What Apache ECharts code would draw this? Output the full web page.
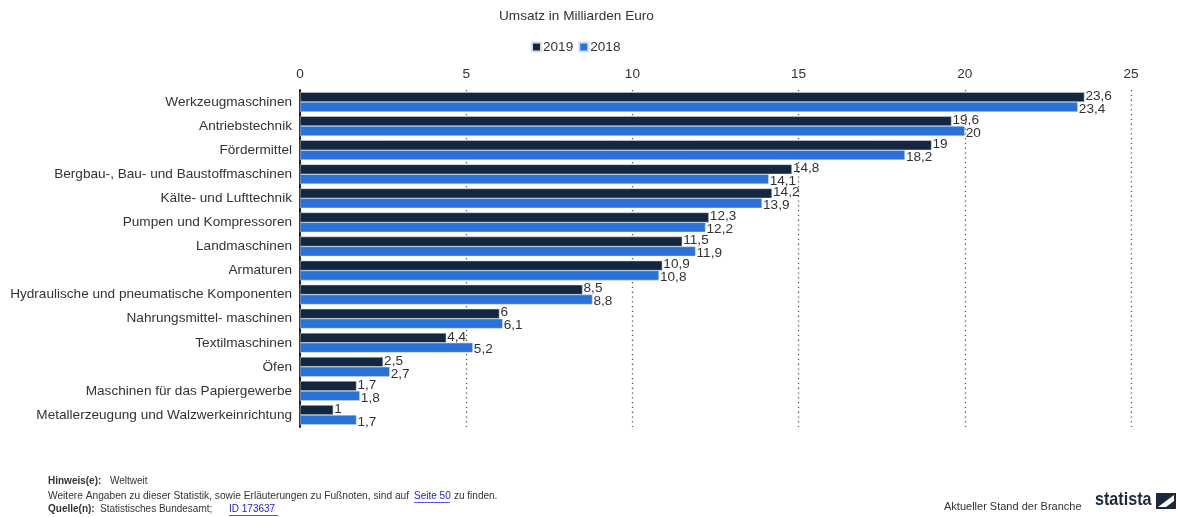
<!DOCTYPE html>
<html><head><meta charset="utf-8">
<script src="https://cdn.jsdelivr.net/npm/echarts@6/dist/echarts.min.js"></script>
<style>html,body{margin:0;padding:0;background:#fff}#c{width:1178px;height:517px}</style>
</head><body><div id="c"></div>
<script>
const categories = ["Werkzeugmaschinen","Antriebstechnik","Fördermittel","Bergbau-, Bau- und Baustoffmaschinen","Kälte- und Lufttechnik","Pumpen und Kompressoren","Landmaschinen","Armaturen","Hydraulische und pneumatische Komponenten","Nahrungsmittel- maschinen","Textilmaschinen","Öfen","Maschinen für das Papiergewerbe","Metallerzeugung und Walzwerkeinrichtung"];
const values2019 = [23.6,19.6,19,14.8,14.2,12.3,11.5,10.9,8.5,6,4.4,2.5,1.7,1];
const values2018 = [23.4,20,18.2,14.1,13.9,12.2,11.9,10.8,8.8,6.1,5.2,2.7,1.8,1.7];
const xTicks = [0,5,10,15,20,25];

const FF = 'Arial, Liberation Sans, sans-serif';
const FS = 13.6;
const chart = echarts.init(document.getElementById('c'));
const fmt = p => String(p.value).replace('.', ',');
const lbl = {show:true, position:'right', distance:1, color:'#333', fontSize:FS, fontFamily:FF, formatter: fmt};
chart.setOption({
  animation:false,
  textStyle:{fontFamily:FF},
  title:{text:'Umsatz in Milliarden Euro', left:499, top:9, padding:0, textStyle:{fontSize:FS, fontWeight:'normal', color:'#333', fontFamily:FF}},
  legend:{data:['2019','2018'], top:40, left:531, padding:0, itemWidth:9, itemHeight:9, itemGap:5, icon:'rect', textStyle:{fontSize:FS,color:'#333', fontFamily:FF, padding:[0,0,0,-3]}},
  grid:{left:300, right:47, top:90, bottom:90},
  xAxis:{type:'value', position:'top', min:0, max:25, interval:5,
    axisLabel:{color:'#333', fontSize:FS, fontFamily:FF, margin:9, formatter:v=>xTicks.includes(v)?String(v):''},
    axisLine:{show:false}, axisTick:{show:false},
    splitLine:{show:true, lineStyle:{type:[1.3,3.5], color:'#555', width:1.3}}},
  yAxis:{type:'category', data:categories, inverse:true,
    axisLabel:{color:'#333', fontSize:FS, fontFamily:FF, margin:8},
    axisLine:{show:true, lineStyle:{color:'#222', width:2}}, axisTick:{show:false}},
  series:[
    {name:'2019', type:'bar', data:values2019, barGap:'0%', barCategoryGap:'18%', itemStyle:{color:'#13273f', borderColor:'#d5dde6', borderWidth:0.5}, label:Object.assign({}, lbl, {offset:[0,-1]})},
    {name:'2018', type:'bar', data:values2018, itemStyle:{color:'#2a72d8', borderColor:'#d5dde6', borderWidth:0.5}, label:Object.assign({}, lbl, {offset:[0,2]})}
  ],
  graphic:[
    {type:'text', left:48, top:476, style:{text:'Hinweis(e):', font:'bold 10px Arial, Liberation Sans, sans-serif', fill:'#333'}},
    {type:'text', left:110, top:476, style:{text:'Weltweit', font:'10px Arial, Liberation Sans, sans-serif', fill:'#333'}},
    {type:'text', left:48, top:491, style:{text:'Weitere Angaben zu dieser Statistik, sowie Erläuterungen zu Fußnoten, sind auf', font:'10.2px Arial, Liberation Sans, sans-serif', fill:'#333'}},
    {type:'text', left:414, top:491, style:{text:'Seite 50', font:'10px Arial, Liberation Sans, sans-serif', fill:'#1a1adb'}},
    {type:'rect', left:414, top:502, shape:{width:36,height:0.8}, style:{fill:'#1a1adb'}},
    {type:'text', left:454, top:491, style:{text:'zu finden.', font:'10px Arial, Liberation Sans, sans-serif', fill:'#333'}},
    {type:'text', left:48, top:504, style:{text:'Quelle(n):', font:'bold 10px Arial, Liberation Sans, sans-serif', fill:'#333'}},
    {type:'text', left:100, top:504, style:{text:'Statistisches Bundesamt;', font:'10px Arial, Liberation Sans, sans-serif', fill:'#333'}},
    {type:'text', left:229, top:504, style:{text:'ID 173637', font:'10px Arial, Liberation Sans, sans-serif', fill:'#1a1adb'}},
    {type:'rect', left:229, top:515, shape:{width:49,height:0.8}, style:{fill:'#1a1adb'}},
    {type:'text', left:944, top:501, style:{text:'Aktueller Stand der Branche', font:'11px Arial, Liberation Sans, sans-serif', fill:'#333'}},
    {type:'text', x:1095, y:490, scaleX:0.85, style:{text:'statista', font:'bold 19px Arial, Liberation Sans, sans-serif', fill:'#1b2a3b'}},
    {type:'rect', left:1156, top:493, shape:{width:20,height:16}, style:{fill:'#1b2a3b'}},
    {type:'polygon', shape:{points:[[1158,507],[1174,495],[1174,501],[1166,507]]}, style:{fill:'#fff'}}
  ]
});
</script></body></html>
